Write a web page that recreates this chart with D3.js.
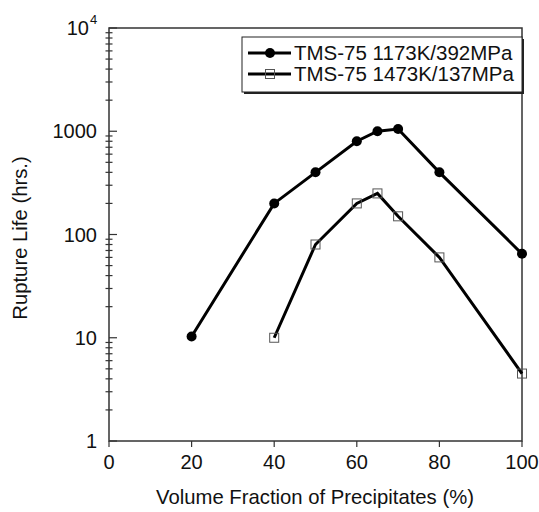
<!DOCTYPE html>
<html>
<head>
<meta charset="utf-8">
<script src="https://cdn.jsdelivr.net/npm/d3@7"></script>
<style>
  body { margin: 0; background: #fff; }
  text { font-family: "Liberation Sans", Arial, Helvetica, sans-serif; fill: #111; }
</style>
</head>
<body>
<script>
var width = 539;
var height = 512;

// data
var fraction1 = [20, 40, 50, 60, 65, 70, 80, 100];
var life1 = [10.3, 200, 400, 800, 1000, 1050, 400, 65];
var fraction2 = [40, 50, 60, 65, 70, 80, 100];
var life2 = [10, 80, 200, 250, 150, 60, 4.5];
var seriesNames = ["TMS-75 1173K/392MPa", "TMS-75 1473K/137MPa"];
var xTicks = [0, 20, 40, 60, 80, 100];
var yTicks = [1, 10, 100, 1000];

var svg = d3.select("body").append("svg")
            .attr("width", width)
            .attr("height", height);

var xScale = d3.scaleLinear().domain([0, 100]).range([109, 522]);
var yScale = d3.scaleLog().domain([1, 10000]).range([441, 28]);

var axisColor = "#333";

// frame
svg.append("rect")
   .attr("x", xScale(0)).attr("y", yScale(10000))
   .attr("width", xScale(100) - xScale(0))
   .attr("height", yScale(1) - yScale(10000))
   .attr("fill", "none").attr("stroke", axisColor).attr("stroke-width", 1.5);

// y minor ticks (cross the axis)
var minors = [];
for (var dec = 1; dec < 10000; dec *= 10) {
    for (var k = 2; k <= 9; k++) minors.push(dec * k);
}
svg.selectAll(".ymin").data(minors).enter().append("line")
   .attr("x1", xScale(0) - 3.5).attr("x2", xScale(0) + 3.5)
   .attr("y1", function(d) { return yScale(d); })
   .attr("y2", function(d) { return yScale(d); })
   .attr("stroke", axisColor).attr("stroke-width", 1.2);

// y major ticks (inward)
svg.selectAll(".ymaj").data(yTicks.concat([10000])).enter().append("line")
   .attr("x1", xScale(0)).attr("x2", xScale(0) + 8)
   .attr("y1", function(d) { return yScale(d); })
   .attr("y2", function(d) { return yScale(d); })
   .attr("stroke", axisColor).attr("stroke-width", 1.2);

svg.selectAll(".ylab").data(yTicks).enter().append("text")
   .attr("x", 97)
   .attr("y", function(d) { return yScale(d) + 7; })
   .attr("text-anchor", "end")
   .attr("font-size", 20)
   .text(function(d) { return d; });

svg.append("text")
   .attr("x", 89).attr("y", yScale(10000) + 7)
   .attr("text-anchor", "end").attr("font-size", 20)
   .text("10");
svg.append("text")
   .attr("x", 90).attr("y", yScale(10000) - 4)
   .attr("font-size", 13)
   .text("4");

// x ticks (outward)
svg.selectAll(".xtick").data(xTicks).enter().append("line")
   .attr("x1", function(d) { return xScale(d); })
   .attr("x2", function(d) { return xScale(d); })
   .attr("y1", yScale(1)).attr("y2", yScale(1) + 6)
   .attr("stroke", axisColor).attr("stroke-width", 1.2);

svg.selectAll(".xlab").data(xTicks).enter().append("text")
   .attr("x", function(d) { return xScale(d); })
   .attr("y", 469)
   .attr("text-anchor", "middle")
   .attr("font-size", 20)
   .text(function(d) { return d; });

// axis titles
svg.append("text")
   .attr("x", 315).attr("y", 504)
   .attr("text-anchor", "middle").attr("font-size", 20.3)
   .text("Volume Fraction of Precipitates (%)");
svg.append("text")
   .attr("transform", "translate(27,238) rotate(-90)")
   .attr("text-anchor", "middle").attr("font-size", 20.3)
   .text("Rupture Life (hrs.)");

// series
var pts1 = fraction1.map(function(f, i) { return [f, life1[i]]; });
var pts2 = fraction2.map(function(f, i) { return [f, life2[i]]; });
var line = d3.line()
             .x(function(d) { return xScale(d[0]); })
             .y(function(d) { return yScale(d[1]); });

svg.append("path").datum(pts1).attr("d", line)
   .attr("fill", "none").attr("stroke", "#000").attr("stroke-width", 3);
svg.append("path").datum(pts2).attr("d", line)
   .attr("fill", "none").attr("stroke", "#000").attr("stroke-width", 3);

svg.selectAll(".dot").data(pts1).enter().append("circle")
   .attr("cx", function(d) { return xScale(d[0]); })
   .attr("cy", function(d) { return yScale(d[1]); })
   .attr("r", 5).attr("fill", "#000");

var sq = 9;
svg.selectAll(".sq").data(pts2).enter().append("rect")
   .attr("x", function(d) { return xScale(d[0]) - sq / 2; })
   .attr("y", function(d) { return yScale(d[1]) - sq / 2; })
   .attr("width", sq).attr("height", sq)
   .attr("fill", "none").attr("stroke", "#555").attr("stroke-width", 1);

// legend
var lg = svg.append("g");
lg.append("rect").attr("x", 244).attr("y", 39).attr("width", 280).attr("height", 55)
  .attr("fill", "#222");
lg.append("rect").attr("x", 242).attr("y", 37).attr("width", 280).attr("height", 55)
  .attr("fill", "#fff").attr("stroke", "#222").attr("stroke-width", 1);
var rows = [53, 74];
rows.forEach(function(ry, i) {
    lg.append("line").attr("x1", 248).attr("x2", 291).attr("y1", ry).attr("y2", ry)
      .attr("stroke", "#000").attr("stroke-width", 3);
    if (i === 0) {
        lg.append("circle").attr("cx", 270).attr("cy", ry).attr("r", 5).attr("fill", "#000");
    } else {
        lg.append("rect").attr("x", 270 - sq / 2).attr("y", ry - sq / 2)
          .attr("width", sq).attr("height", sq)
          .attr("fill", "none").attr("stroke", "#555").attr("stroke-width", 1);
    }
    lg.append("text").attr("x", 294).attr("y", ry + 7).attr("font-size", 20.5)
      .text(seriesNames[i]);
});
</script>
</body>
</html>
